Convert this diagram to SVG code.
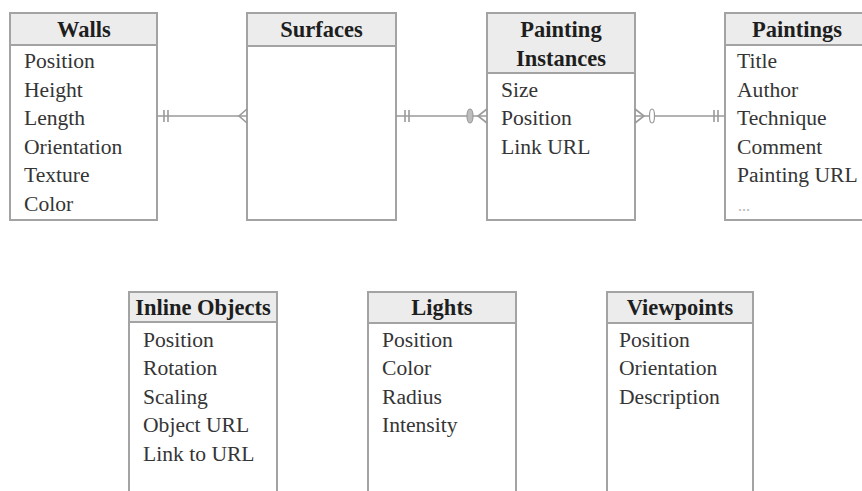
<svg xmlns="http://www.w3.org/2000/svg" width="862" height="491" viewBox="0 0 862 491">
  <style>
    .box { fill: #ffffff; stroke: #a3a3a3; stroke-width: 2; }
    .head { fill: #ececec; stroke: #a3a3a3; stroke-width: 2; }
    .title { font-family: "Liberation Serif", "Times New Roman", serif; font-weight: bold; font-size: 22.5px; fill: #1e1e1e; text-anchor: middle; }
    .attr { font-family: "Liberation Serif", "Times New Roman", serif; font-size: 21.6px; fill: #353535; }
    .more { font-family: "Liberation Serif", "Times New Roman", serif; font-size: 16px; fill: #b5b5b5; }
    .line { stroke: #9a9a9a; stroke-width: 1.6; fill: none; }
    .mark { stroke: #9a9a9a; stroke-width: 1.6; fill: none; }
    .zero { fill: #bdbdbd; stroke: #9a9a9a; stroke-width: 1.2; }
  </style>
  <rect width="862" height="491" fill="#ffffff"/>

  <!-- Entities: top row -->
  <g id="walls">
    <rect class="box" x="10" y="13" width="147" height="207"/>
    <rect class="head" x="10" y="13" width="147" height="32"/>
    <text class="title" x="84" y="37">Walls</text>
    <text class="attr" x="24" y="68">Position</text>
    <text class="attr" x="24" y="96.6">Height</text>
    <text class="attr" x="24" y="125.2">Length</text>
    <text class="attr" x="24" y="153.8">Orientation</text>
    <text class="attr" x="24" y="182.4">Texture</text>
    <text class="attr" x="24" y="211">Color</text>
  </g>

  <g id="surfaces">
    <rect class="box" x="247" y="13" width="149" height="207"/>
    <rect class="head" x="247" y="13" width="149" height="33"/>
    <text class="title" x="321.5" y="37">Surfaces</text>
  </g>

  <g id="painting-instances">
    <rect class="box" x="487" y="13" width="148" height="207"/>
    <rect class="head" x="487" y="13" width="148" height="60"/>
    <text class="title" x="561" y="37">Painting</text>
    <text class="title" x="561" y="66">Instances</text>
    <text class="attr" x="501" y="96.6">Size</text>
    <text class="attr" x="501" y="125.2">Position</text>
    <text class="attr" x="501" y="153.8">Link URL</text>
  </g>

  <g id="paintings">
    <rect class="box" x="725" y="13" width="150" height="207"/>
    <rect class="head" x="725" y="13" width="150" height="32"/>
    <text class="title" x="797" y="37">Paintings</text>
    <text class="attr" x="737" y="68">Title</text>
    <text class="attr" x="737" y="96.6">Author</text>
    <text class="attr" x="737" y="125.2">Technique</text>
    <text class="attr" x="737" y="153.8">Comment</text>
    <text class="attr" x="737" y="182.4">Painting URL</text>
    <text class="more" x="738" y="211">...</text>
  </g>

  <!-- Entities: bottom row -->
  <g id="inline-objects">
    <rect class="box" x="129" y="292" width="148" height="210"/>
    <rect class="head" x="129" y="292" width="148" height="30"/>
    <text class="title" x="203" y="315">Inline Objects</text>
    <text class="attr" x="143" y="347">Position</text>
    <text class="attr" x="143" y="375.4">Rotation</text>
    <text class="attr" x="143" y="403.8">Scaling</text>
    <text class="attr" x="143" y="432.2">Object URL</text>
    <text class="attr" x="143" y="460.6">Link to URL</text>
  </g>

  <g id="lights">
    <rect class="box" x="368" y="292" width="148" height="210"/>
    <rect class="head" x="368" y="292" width="148" height="31"/>
    <text class="title" x="442" y="315">Lights</text>
    <text class="attr" x="382" y="347">Position</text>
    <text class="attr" x="382" y="375.4">Color</text>
    <text class="attr" x="382" y="403.8">Radius</text>
    <text class="attr" x="382" y="432.2">Intensity</text>
  </g>

  <g id="viewpoints">
    <rect class="box" x="607" y="292" width="146" height="210"/>
    <rect class="head" x="607" y="292" width="146" height="31"/>
    <text class="title" x="680" y="315">Viewpoints</text>
    <text class="attr" x="619" y="347">Position</text>
    <text class="attr" x="619" y="375.4">Orientation</text>
    <text class="attr" x="619" y="403.8">Description</text>
  </g>

  <!-- Relationships (crow's foot notation) -->
  <g id="connectors">
    <!-- Walls (one and only one) to Surfaces (many) -->
    <line class="line" x1="157" y1="116" x2="247" y2="116"/>
    <path class="mark" d="M164 110 V122 M168 110 V122"/>
    <path class="mark" d="M247 109 L239 116 L247 123"/>

    <!-- Surfaces (one and only one) to Painting Instances (zero or many) -->
    <line class="line" x1="396" y1="116" x2="487" y2="116"/>
    <path class="mark" d="M405 110 V122 M409 110 V122"/>
    <ellipse class="zero" cx="470" cy="116" rx="3" ry="7"/>
    <path class="mark" d="M487 109 L478 116 L487 123"/>

    <!-- Painting Instances (zero or many) to Paintings (one and only one) -->
    <line class="line" x1="635" y1="116" x2="725" y2="116"/>
    <path class="mark" d="M635 109 L644 116 L635 123"/>
    <ellipse class="zero" cx="652" cy="116" rx="2.5" ry="7" style="fill:#ffffff"/>
    <path class="mark" d="M714 110 V122 M718 110 V122"/>
  </g>
</svg>
